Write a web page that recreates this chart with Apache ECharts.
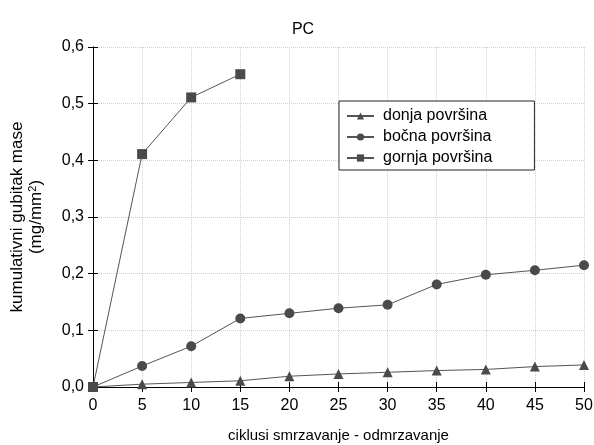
<!DOCTYPE html>
<html>
<head>
<meta charset="utf-8">
<script src="https://cdn.jsdelivr.net/npm/echarts@6/dist/echarts.min.js"></script>
<style>
  html, body { margin: 0; padding: 0; background: #fff; }
  #chart-container { width: 594px; height: 445px; }
</style>
</head>
<body>
<div id="chart-container"></div>
<script>
var dom = document.getElementById("chart-container");
var myChart = echarts.init(dom, null, { renderer: "canvas" });

// ciklusi
var cycles = [0, 5, 10, 15, 20, 25, 30, 35, 40, 45, 50];
var donja = [0, 0.005, 0.008, 0.011, 0.019, 0.023, 0.026, 0.029, 0.031, 0.036, 0.039];
var bocna = [0, 0.037, 0.072, 0.121, 0.130, 0.139, 0.145, 0.181, 0.198, 0.206, 0.215];
var gornjaCycles = [0, 5, 10, 15];
var gornja = [0, 0.411, 0.511, 0.552];
var seriesNames = ["donja površina", "bočna površina", "gornja površina"];

function pairs(xs, ys) {
  return xs.map(function (x, i) { return [x, ys[i]]; });
}

var font = "Liberation Sans, Arial, sans-serif";
var gridLine = { show: true, lineStyle: { color: "#d0d0d0", type: "dotted", width: 1 } };

function mkSeries(name, data, symbol, size) {
  return {
    name: name,
    type: "line",
    data: data,
    symbol: symbol,
    symbolSize: size,
    lineStyle: { color: "#555", width: 1 },
    itemStyle: { color: "#4a4a4a" },
    emphasis: { disabled: true },
    z: 5
  };
}

var option = {
  animation: false,
  title: {
    text: "PC",
    left: 298,
    top: 17,
    textAlign: "center",
    textStyle: { fontFamily: font, fontSize: 16, fontWeight: "normal", color: "#000" }
  },
  legend: {
    orient: "vertical",
    left: 339,
    top: 101,
    padding: [7, 42, 4, 7],
    itemGap: 5,
    itemWidth: 27,
    itemHeight: 9,
    borderColor: "#222",
    borderWidth: 1,
    backgroundColor: "#fff",
    data: seriesNames,
    textStyle: { fontFamily: font, fontSize: 16, color: "#000", padding: [0, 0, 0, 4] }
  },
  grid: { left: 93, right: 10, top: 47, bottom: 58, outerBoundsMode: "none" },
  xAxis: [
    {
      type: "value",
      min: 0, max: 50, interval: 5,
      name: "ciklusi smrzavanje - odmrzavanje",
      nameLocation: "middle",
      nameGap: 41,
      nameTextStyle: { fontFamily: font, fontSize: 15, color: "#000" },
      axisLine: { show: true, onZero: false, lineStyle: { color: "#000", width: 1 } },
      axisTick: { show: true, inside: true, length: 5, lineStyle: { color: "#000" } },
      axisLabel: { fontFamily: font, fontSize: 16, color: "#000", margin: 11 },
      splitLine: gridLine
    },
    {
      type: "value",
      position: "top",
      min: 0, max: 50, interval: 5,
      axisLine: { show: true, lineStyle: { color: "#000", width: 1 } },
      axisTick: { show: true, inside: true, length: 5, lineStyle: { color: "#000" } },
      axisLabel: { show: false },
      splitLine: { show: false }
    }
  ],
  yAxis: [
    {
      type: "value",
      min: 0, max: 0.6, interval: 0.1,
      name: "{a|kumulativni gubitak mase}\n{a|(mg/mm}{sup|2}{a|)}",
      nameLocation: "middle",
      nameGap: 47,
      nameTextStyle: {
        fontFamily: font, fontSize: 17, color: "#000", lineHeight: 19,
        rich: {
          a: { fontFamily: font, fontSize: 17, color: "#000", lineHeight: 19 },
          sup: { fontFamily: font, fontSize: 11, color: "#000", lineHeight: 19, verticalAlign: "top", padding: [0, 0, 6, 0] }
        }
      },
      axisLine: { show: true, onZero: false, lineStyle: { color: "#000", width: 1 } },
      axisTick: { show: true, inside: true, length: 5, lineStyle: { color: "#000" } },
      axisLabel: {
        fontFamily: font, fontSize: 16, color: "#000", margin: 9,
        formatter: function (v) { return v.toFixed(1).replace(".", ","); }
      },
      splitLine: gridLine
    },
    {
      type: "value",
      position: "right",
      min: 0, max: 0.6, interval: 0.1,
      axisLine: { show: true, lineStyle: { color: "#000", width: 1 } },
      axisTick: { show: true, inside: true, length: 5, lineStyle: { color: "#000" } },
      axisLabel: { show: false },
      splitLine: { show: false }
    }
  ],
  series: [
    mkSeries(seriesNames[0], pairs(cycles, donja), "triangle", 10),
    mkSeries(seriesNames[1], pairs(cycles, bocna), "circle", 10),
    mkSeries(seriesNames[2], pairs(gornjaCycles, gornja), "rect", 10)
  ]
};

myChart.setOption(option);
window.addEventListener("resize", myChart.resize);
</script>
</body>
</html>
